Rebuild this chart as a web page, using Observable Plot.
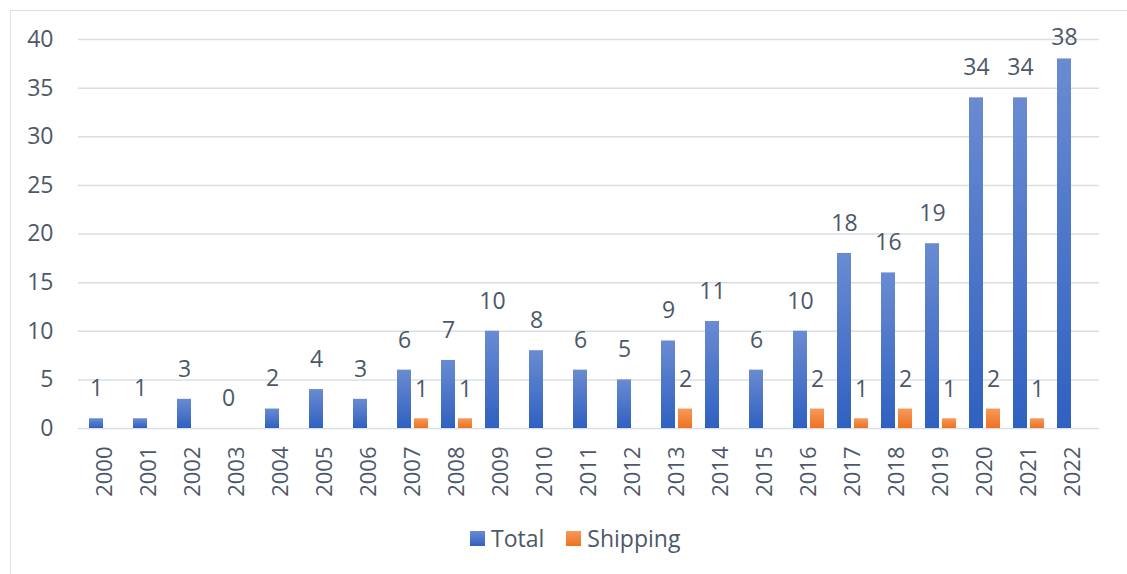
<!DOCTYPE html>
<html>
<head>
<meta charset="utf-8">
<script src="https://cdn.jsdelivr.net/npm/d3@7"></script>
<script src="https://cdn.jsdelivr.net/npm/@observablehq/plot@0.6"></script>
<style>
  html, body { margin: 0; padding: 0; background: #fff; overflow: hidden; }
  body { width: 1127px; height: 574px; position: relative; font-family: "Open Sans", sans-serif; }
  #frame { position: absolute; left: 10px; top: 10px; width: 1300px; height: 800px; border: 1px solid #dcdfe4; pointer-events: none; }
  #legend { height: 64px; display: flex; align-items: center; padding-left: 470px; box-sizing: border-box; font-size: 23px; color: #4d5869; padding-bottom: 8px; }
  .sw { width: 15px; height: 15px; display: inline-block; margin-right: 6px; }
  .item { display: flex; align-items: center; margin-right: 22px; }
</style>
</head>
<body>
<div id="chart"></div>
<div id="legend"></div>
<div id="frame"></div>
<script>
const years = ["2000","2001","2002","2003","2004","2005","2006","2007","2008","2009","2010","2011","2012","2013","2014","2015","2016","2017","2018","2019","2020","2021","2022"];
const totalValues = [1,1,3,0,2,4,3,6,7,10,8,6,5,9,11,6,10,18,16,19,34,34,38];
const shippingValues = [0,0,0,0,0,0,0,1,1,0,0,0,0,2,0,0,2,1,2,1,2,1,0];
const yTicks = [0,5,10,15,20,25,30,35,40];
const seriesNames = ["Total", "Shipping"];

const textColor = "#4d5869";
const totalRows = years.map((y, i) => ({year: y, value: totalValues[i]}));
const shipRows = years.map((y, i) => ({year: y, value: shippingValues[i]}));

const chart = Plot.plot({
  width: 1127,
  height: 510,
  marginLeft: 78,
  marginRight: 28,
  marginTop: 39,
  marginBottom: 82,
  style: {fontFamily: "'Open Sans', sans-serif", color: textColor, background: "transparent"},
  x: {domain: years, paddingInner: 0.302, paddingOuter: 0.158, label: null},
  y: {domain: [0, 40], label: null},
  marks: [
    Plot.gridY(yTicks, {stroke: "#dadee4", strokeOpacity: 1, strokeWidth: 1.5}),
    Plot.axisY(yTicks, {tickSize: 0, tickPadding: 25, fontSize: 23, label: null, fill: textColor}),
    Plot.axisX({tickRotate: -90, tickSize: 0, tickPadding: 18, fontSize: 22, label: null, fill: textColor}),
    Plot.barY(totalRows, {x: "year", y: "value", fill: "url(#gradTotal)", insetRight: 17}),
    Plot.barY(shipRows, {x: "year", y: "value", fill: "url(#gradShip)", insetLeft: 17}),
    Plot.text(totalRows.filter(d => d.value < 37), {x: "year", y: "value", text: d => String(d.value), dx: -8.5, dy: -30, fontSize: 23, fill: textColor}),
    Plot.text(totalRows.filter(d => d.value >= 37), {x: "year", y: "value", text: d => String(d.value), dx: -8.5, dy: -21, fontSize: 23, fill: textColor}),
    Plot.text(shipRows.filter(d => d.value > 0), {x: "year", y: "value", text: d => String(d.value), dx: 8.5, dy: -29, fontSize: 23, fill: textColor})
  ]
});

const defs = d3.select(chart).insert("defs", ":first-child");
function grad(id, top, bottom) {
  const g = defs.append("linearGradient").attr("id", id).attr("x1", 0).attr("y1", 0).attr("x2", 0).attr("y2", 1);
  g.append("stop").attr("offset", "0%").attr("stop-color", top);
  g.append("stop").attr("offset", "100%").attr("stop-color", bottom);
}
grad("gradTotal", "#6a8bd2", "#2f61c1");
grad("gradShip", "#f6995a", "#ee7222");

document.getElementById("chart").appendChild(chart);

const legend = document.getElementById("legend");
const swatchBg = {
  Total: "linear-gradient(#6a8bd2, #2f61c1)",
  Shipping: "linear-gradient(#f6995a, #ee7222)"
};
seriesNames.forEach(name => {
  const item = document.createElement("span");
  item.className = "item";
  const sw = document.createElement("span");
  sw.className = "sw";
  sw.style.background = swatchBg[name];
  item.appendChild(sw);
  item.appendChild(document.createTextNode(name));
  legend.appendChild(item);
});
</script>
</body>
</html>
